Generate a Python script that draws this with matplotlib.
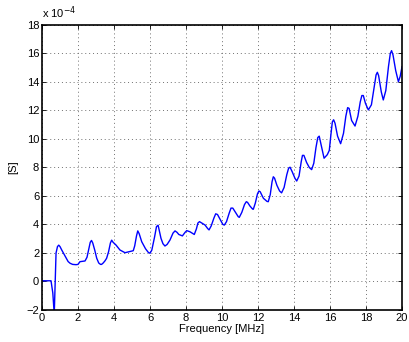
import numpy as np
import matplotlib
matplotlib.use('Agg')
import matplotlib.pyplot as plt

plt.rcParams['font.family'] = ['Liberation Sans', 'DejaVu Sans']

# frequency [MHz] and conductance [x 1e-4 S]
freq = [0.0, 0.3, 0.5, 0.6, 0.68, 0.78, 0.86, 0.93, 1.0, 1.1, 1.3, 1.45, 1.56, 1.7, 1.89,
        2.0, 2.11, 2.39, 2.5, 2.6, 2.68, 2.75, 2.82, 2.93, 3.04, 3.15, 3.25, 3.31,
        3.4, 3.5, 3.59, 3.7, 3.8, 3.87, 3.95, 4.11, 4.33, 4.61, 4.85, 5.07, 5.15,
        5.25, 5.32, 5.4, 5.54, 5.75, 5.9, 6.0, 6.1, 6.25, 6.36, 6.45, 6.53, 6.61,
        6.72, 6.83, 6.95, 7.11, 7.28, 7.39, 7.5, 7.6, 7.8, 7.95, 8.04, 8.22, 8.46,
        8.58, 8.66, 8.75, 9.06, 9.2, 9.28, 9.4, 9.55, 9.65, 9.75, 9.9, 10.05, 10.13,
        10.25, 10.4, 10.5, 10.6, 10.75, 10.9, 10.96, 11.1, 11.25, 11.35, 11.42,
        11.55, 11.7, 11.74, 11.85, 11.97, 12.05, 12.12, 12.3, 12.5, 12.57, 12.68,
        12.78, 12.85, 12.92, 13.05, 13.2, 13.31, 13.45, 13.6, 13.7, 13.78, 13.9,
        14.05, 14.15, 14.28, 14.4, 14.47, 14.55, 14.7, 14.85, 14.98, 15.1, 15.22,
        15.32, 15.4, 15.52, 15.67, 15.85, 15.96, 16.05, 16.13, 16.2, 16.28, 16.42,
        16.59, 16.75, 16.88, 16.98, 17.06, 17.2, 17.39, 17.55, 17.68, 17.77, 17.85,
        17.97, 18.13, 18.3, 18.45, 18.56, 18.63, 18.7, 18.85, 18.96, 19.1, 19.25,
        19.35, 19.42, 19.5, 19.65, 19.8, 19.9, 20.0]
cond = [0.05, 0.05, 0.05, -0.8, -2.3, 2.0, 2.45, 2.55, 2.45, 2.2, 1.75, 1.4, 1.28, 1.2, 1.18,
        1.2, 1.39, 1.44, 1.7, 2.3, 2.75, 2.88, 2.7, 2.2, 1.63, 1.3, 1.2, 1.2,
        1.3, 1.45, 1.63, 2.1, 2.7, 2.9, 2.75, 2.56, 2.21, 2.02, 2.09, 2.16, 2.5,
        3.2, 3.55, 3.35, 2.79, 2.3, 2.05, 1.98, 2.2, 3.1, 3.85, 3.95, 3.5, 3.03,
        2.65, 2.49, 2.6, 2.91, 3.4, 3.55, 3.45, 3.3, 3.2, 3.45, 3.57, 3.49, 3.3,
        3.7, 4.1, 4.2, 3.96, 3.72, 3.62, 3.9, 4.45, 4.75, 4.7, 4.35, 4.0, 3.96,
        4.2, 4.8, 5.15, 5.15, 4.85, 4.55, 4.5, 4.85, 5.4, 5.6, 5.55, 5.3, 5.08, 5.07,
        5.5, 6.15, 6.35, 6.3, 5.84, 5.62, 5.6, 6.1, 7.0, 7.35, 7.25, 6.75, 6.35, 6.22,
        6.6, 7.5, 7.95, 8.02, 7.7, 7.25, 7.05, 7.4, 8.4, 8.85, 8.85, 8.35, 8.0, 7.85,
        8.3, 9.4, 10.1, 10.2, 9.5, 8.65, 8.9, 9.2, 10.3, 11.2, 11.35, 11.1, 10.2,
        9.67, 10.4, 11.6, 12.2, 12.15, 11.3, 10.91, 11.6, 12.6, 13.05, 13.05, 12.5,
        12.04, 12.4, 13.6, 14.5, 14.68, 14.45, 13.3, 12.74, 13.4, 15.1, 16.0, 16.2,
        15.9, 14.8, 14.02, 14.4, 15.07]

fig = plt.figure(figsize=(4.09, 3.42), dpi=100)
ax = fig.add_axes([0.1027, 0.0936, 0.8802, 0.8333])
ax.plot(freq, cond, color='#0000ff', linewidth=1.0)

ax.set_xlim(0, 20)
ax.set_ylim(-2, 18)
ax.set_xticks(np.arange(0, 21, 2))
ax.set_yticks(np.arange(-2, 19, 2))
ax.set_yticklabels(['\u22122'] + [str(v) for v in range(0, 19, 2)])
ax.tick_params(direction='in', labelsize=8, length=3, width=0.6, top=True, right=True, pad=2)
ax.grid(True, linestyle=(0, (1, 3)), color='#707070', linewidth=0.7)
for s in ax.spines.values():
    s.set_linewidth(1.2)

ax.set_xlabel('Frequency [MHz]', fontsize=8, labelpad=1)
ax.set_ylabel('[S]', fontsize=8, labelpad=6)
ax.text(0.0, 1.015, r'x 10$^{-4}$', transform=ax.transAxes, fontsize=8, va='bottom', ha='left')

fig.savefig('out.png', dpi=100)
